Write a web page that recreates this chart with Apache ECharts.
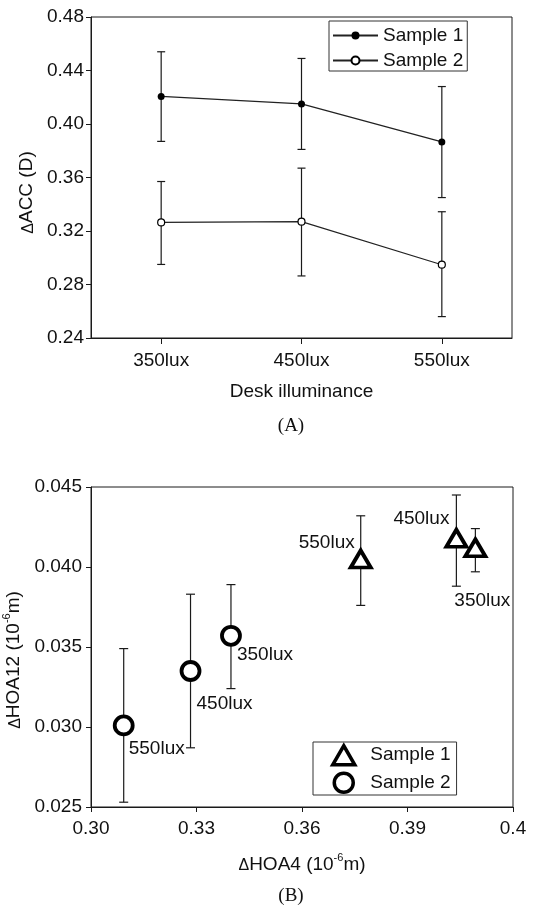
<!DOCTYPE html>
<html>
<head>
<meta charset="utf-8">
<script src="https://cdn.jsdelivr.net/npm/echarts@6/dist/echarts.min.js"></script>
<style>
html,body{margin:0;padding:0;background:#fff;}
#c{width:543px;height:906px;}
</style>
</head>
<body>
<div id="c"></div>
<script>
// ---- Panel A data ----
const categories = ['350lux', '450lux', '550lux'];
const acc1 = [0.4206, 0.4150, 0.3866];
const acc1Low = [0.387, 0.381, 0.345];
const acc1High = [0.454, 0.449, 0.428];
const acc2 = [0.3264, 0.3270, 0.2948];
const acc2Low = [0.295, 0.2864, 0.256];
const acc2High = [0.357, 0.367, 0.3344];

// ---- Panel B data ----
const hoaLabels = ['350lux', '450lux', '550lux'];
const hoa4S1 = [0.4093, 0.4039, 0.3767];
const hoa12S1 = [0.0412, 0.0418, 0.0405];
const hoa12S1Low = [0.0397, 0.0388, 0.0376];
const hoa12S1High = [0.0424, 0.0445, 0.0432];
const hoa4S2 = [0.3398, 0.3283, 0.3093];
const hoa12S2 = [0.0357, 0.0335, 0.0301];
const hoa12S2Low = [0.0324, 0.0287, 0.0253];
const hoa12S2High = [0.0389, 0.0383, 0.0349];

// tick labels
const xTickLabelsB = ['0.30', '0.33', '0.36', '0.39', '0.4'];

const FONT = 'Liberation Sans, Arial, sans-serif';
const INK = '#111';
const LINE = '#1a1a1a';

function errBarRenderer(half) {
  return function (params, api) {
    const x = api.value(0);
    const top = api.coord([x, api.value(2)]);
    const bot = api.coord([x, api.value(1)]);
    const style = { stroke: LINE, lineWidth: 1.2 };
    return {
      type: 'group',
      children: [
        { type: 'line', shape: { x1: top[0], y1: top[1], x2: bot[0], y2: bot[1] }, style },
        { type: 'line', shape: { x1: top[0] - half, y1: top[1], x2: top[0] + half, y2: top[1] }, style },
        { type: 'line', shape: { x1: bot[0] - half, y1: bot[1], x2: bot[0] + half, y2: bot[1] }, style }
      ]
    };
  };
}

const axisBase = {
  axisLine: { show: true, onZero: false, lineStyle: { color: LINE, width: 1 } },
  axisTick: { show: true, length: 5, inside: false, lineStyle: { color: LINE, width: 1 } },
  splitLine: { show: false },
  axisLabel: { color: INK, fontSize: 19, fontFamily: FONT },
  nameTextStyle: { color: INK, fontSize: 19, fontFamily: FONT }
};

const richName = {
  d: { fontSize: 16, fontFamily: FONT, color: INK, lineHeight: 22, verticalAlign: 'bottom' },
  t: { fontSize: 19, fontFamily: FONT, color: INK, lineHeight: 22, verticalAlign: 'bottom' },
  sup: { fontSize: 11, fontFamily: FONT, color: INK, lineHeight: 22, verticalAlign: 'top' }
};

// label placement for panel B (style config, not data)
const placeS1 = [
  { align: 'left', offset: [-21, 53] },
  { align: 'right', offset: [-7, -19] },
  { align: 'right', offset: [-6, -16] }
];
const placeS2 = [
  { align: 'left', offset: [6, 19] },
  { align: 'left', offset: [6, 33] },
  { align: 'left', offset: [5, 23] }
];

function scatterData(xs, ys, place) {
  return xs.map((x, i) => ({
    value: [x, ys[i]],
    name: hoaLabels[i],
    label: Object.assign({ show: true, position: 'inside', verticalAlign: 'middle' }, place[i])
  }));
}

const option = {
  backgroundColor: '#fff',
  animation: false,
  grid: [
    { left: 91, top: 17, width: 421, height: 321, show: true, borderColor: LINE, borderWidth: 1, containLabel: false, outerBoundsMode: 'none' },
    { left: 91, top: 487, width: 422, height: 320, show: true, borderColor: LINE, borderWidth: 1, containLabel: false, outerBoundsMode: 'none' }
  ],
  xAxis: [
    Object.assign({}, axisBase, {
      gridIndex: 0, type: 'category', data: categories, boundaryGap: true,
      axisTick: { show: true, alignWithLabel: true, length: 6, lineStyle: { color: LINE } },
      axisLabel: { color: INK, fontSize: 19, fontFamily: FONT, margin: 13 },
      name: 'Desk illuminance', nameLocation: 'middle', nameGap: 44
    }),
    Object.assign({}, axisBase, {
      gridIndex: 1, type: 'value', min: 0.30, max: 0.42, interval: 0.03,
      axisLabel: {
        color: INK, fontSize: 19, fontFamily: FONT, margin: 12,
        formatter: v => xTickLabelsB[Math.round((v - 0.30) / 0.03)]
      },
      name: '{d|Δ}{t|HOA4 (10}{sup|-6}{t|m)}', nameLocation: 'middle', nameGap: 45,
      nameTextStyle: { rich: richName }
    })
  ],
  yAxis: [
    Object.assign({}, axisBase, {
      gridIndex: 0, type: 'value', min: 0.24, max: 0.48, interval: 0.04,
      axisLabel: { color: INK, fontSize: 19, fontFamily: FONT, margin: 7, formatter: v => v.toFixed(2) },
      name: '{d|Δ}{t|ACC (D)}', nameLocation: 'middle', nameRotate: 90, nameGap: 54,
      nameTextStyle: { rich: richName, padding: [0, 30, 0, 0] }
    }),
    Object.assign({}, axisBase, {
      gridIndex: 1, type: 'value', min: 0.025, max: 0.045, interval: 0.005,
      axisLabel: { color: INK, fontSize: 19, fontFamily: FONT, margin: 9, formatter: v => v.toFixed(3) },
      name: '{d|Δ}{t|HOA12 (10}{sup|-6}{t|m)}', nameLocation: 'middle', nameRotate: 90, nameGap: 66,
      nameTextStyle: { rich: richName, padding: [0, 26, 0, 0] }
    })
  ],
  legend: [
    {
      data: ['Sample 1', 'Sample 2'], orient: 'vertical', left: 329, top: 21,
      itemWidth: 45, itemHeight: 10, itemGap: 6, padding: [5, 4, 1, 3],
      borderColor: '#333', borderWidth: 1, backgroundColor: '#fff',
      textStyle: { color: INK, fontSize: 19, fontFamily: FONT }
    },
    {
      data: ['B: Sample 1', 'B: Sample 2'], orient: 'vertical', left: 313, top: 742,
      itemWidth: 22, itemHeight: 19, itemGap: 5, padding: [2, 6, 1, 18],
      borderColor: '#333', borderWidth: 1, backgroundColor: '#fff',
      itemStyle: { borderWidth: 3.5 },
      formatter: n => '  ' + n.replace('B: ', ''),
      textStyle: { color: INK, fontSize: 19, fontFamily: FONT }
    }
  ],
  series: [
    {
      type: 'custom', name: 'errA1', xAxisIndex: 0, yAxisIndex: 0, z: 1, silent: true,
      renderItem: errBarRenderer(4), encode: { x: 0, y: [1, 2] },
      data: categories.map((c, i) => [i, acc1Low[i], acc1High[i]])
    },
    {
      type: 'custom', name: 'errA2', xAxisIndex: 0, yAxisIndex: 0, z: 1, silent: true,
      renderItem: errBarRenderer(4), encode: { x: 0, y: [1, 2] },
      data: categories.map((c, i) => [i, acc2Low[i], acc2High[i]])
    },
    {
      type: 'line', name: 'Sample 1', xAxisIndex: 0, yAxisIndex: 0, z: 3,
      data: acc1, symbol: 'circle', symbolSize: 7, showSymbol: true,
      itemStyle: { color: '#000' }, lineStyle: { color: '#222', width: 1.2 }
    },
    {
      type: 'line', name: 'Sample 2', xAxisIndex: 0, yAxisIndex: 0, z: 3,
      data: acc2, symbol: 'circle', symbolSize: 7, showSymbol: true,
      itemStyle: { color: '#fff', borderColor: '#000', borderWidth: 1.2 }, lineStyle: { color: '#222', width: 1.2 }
    },
    {
      type: 'custom', name: 'errB1', xAxisIndex: 1, yAxisIndex: 1, z: 1, silent: true,
      renderItem: errBarRenderer(4.5), encode: { x: 0, y: [1, 2] },
      data: hoa4S1.map((x, i) => [x, hoa12S1Low[i], hoa12S1High[i]])
    },
    {
      type: 'custom', name: 'errB2', xAxisIndex: 1, yAxisIndex: 1, z: 1, silent: true,
      renderItem: errBarRenderer(4.5), encode: { x: 0, y: [1, 2] },
      data: hoa4S2.map((x, i) => [x, hoa12S2Low[i], hoa12S2High[i]])
    },
    {
      type: 'scatter', name: 'B: Sample 1', xAxisIndex: 1, yAxisIndex: 1, z: 3,
      symbol: 'triangle', symbolSize: [20, 17],
      itemStyle: { color: '#fff', borderColor: '#000', borderWidth: 3.8, opacity: 1 },
      label: { show: true, formatter: '{b}', color: INK, fontSize: 19, fontFamily: FONT },
      data: scatterData(hoa4S1, hoa12S1, placeS1)
    },
    {
      type: 'scatter', name: 'B: Sample 2', xAxisIndex: 1, yAxisIndex: 1, z: 3,
      symbol: 'circle', symbolSize: 18,
      itemStyle: { color: '#fff', borderColor: '#000', borderWidth: 3.8, opacity: 1 },
      label: { show: true, formatter: '{b}', color: INK, fontSize: 19, fontFamily: FONT },
      data: scatterData(hoa4S2, hoa12S2, placeS2)
    }
  ],
  graphic: [
    { type: 'text', x: 291, y: 426, style: { text: '(A)', fontFamily: 'Liberation Serif, Times New Roman, serif', fontSize: 19, fill: INK, textAlign: 'center', textVerticalAlign: 'middle' } },
    { type: 'text', x: 291, y: 896, style: { text: '(B)', fontFamily: 'Liberation Serif, Times New Roman, serif', fontSize: 19, fill: INK, textAlign: 'center', textVerticalAlign: 'middle' } }
  ]
};

const chart = echarts.init(document.getElementById('c'), null, { renderer: 'canvas' });
chart.setOption(option);
</script>
</body>
</html>
